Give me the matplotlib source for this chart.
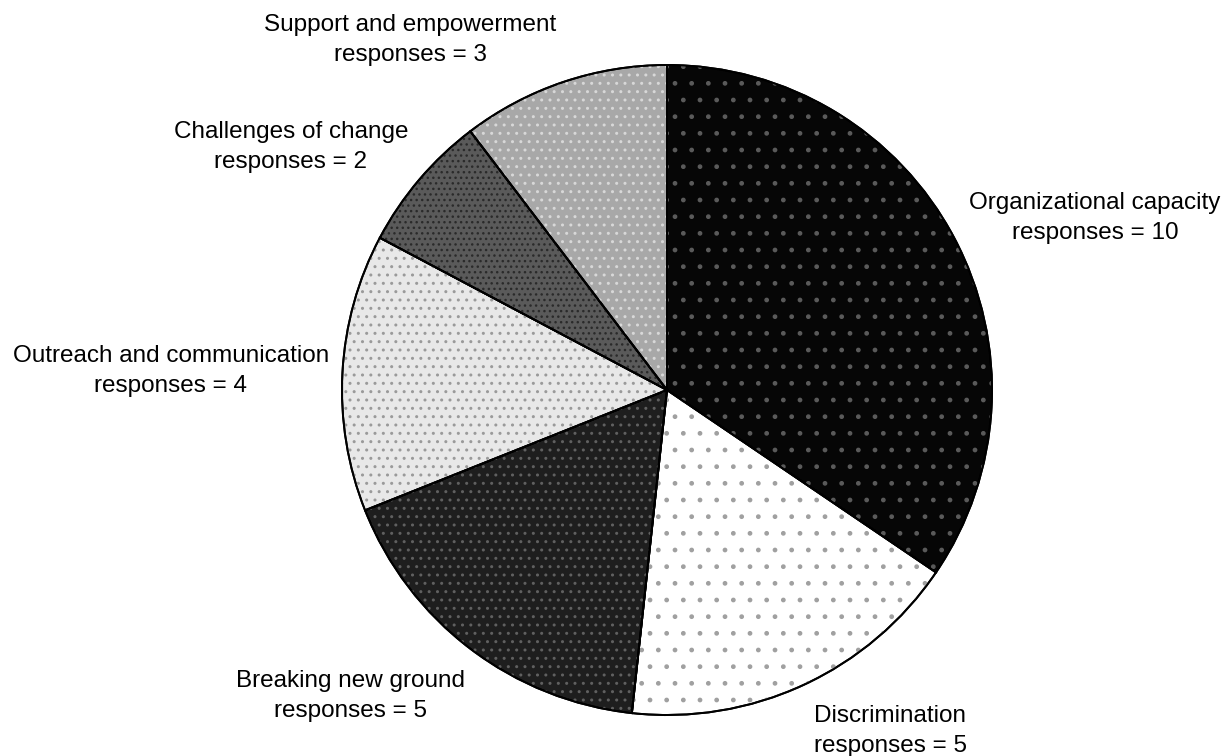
import matplotlib.pyplot as plt

# response counts per theme, clockwise from 12 o'clock
themes = ["Organizational capacity", "Discrimination", "Breaking new ground",
          "Outreach and communication", "Challenges of change", "Support and empowerment"]
counts = [10, 5, 5, 4, 2, 3]

face_colors = ["#060606", "#ffffff", "#1e1e1e", "#e8e8e8", "#5a5a5a", "#a8a8a8"]
dot_colors = ["#5a5a5a", "#a0a0a0", "#606060", "#9a9a9a", "#2a2a2a", "#d8d8d8"]
dot_hatches = [".", ".", "..", "..", "...", ".."]

# label anchor points (pixel coords, centre of the two-line block)
label_pos = [(1095, 218), (890, 731), (351, 696), (171, 371), (291, 147), (410, 40)]

W, H = 1230, 756
cx, cy, R = 667, 390, 325

fig = plt.figure(figsize=(W / 100, H / 100), dpi=100)
ax = fig.add_axes([0, 0, 1, 1])

wedges, _ = ax.pie(counts, startangle=90, counterclock=False, radius=1,
                   colors=face_colors,
                   wedgeprops=dict(edgecolor="black", linewidth=1.4))

# dotted screen texture laid over each slice
overlay, _ = ax.pie(counts, startangle=90, counterclock=False, radius=1,
                    wedgeprops=dict(facecolor="none", linewidth=0))
for w, hc, h in zip(overlay, dot_colors, dot_hatches):
    w.set_edgecolor(hc)
    w.set_hatch(h)

# keep outlines on top
outline, _ = ax.pie(counts, startangle=90, counterclock=False, radius=1,
                    wedgeprops=dict(facecolor="none", edgecolor="black", linewidth=1.4))

# limits chosen so one data unit = R pixels both ways
ax.set_aspect("auto")
ax.set_xlim(-cx / R, (W - cx) / R)
ax.set_ylim(-(H - cy) / R, cy / R)
ax.axis("off")

for name, n, (px, py) in zip(themes, counts, label_pos):
    x = (px - cx) / R
    y = (cy - py) / R
    ax.text(x, y, f"{name}\nresponses = {n}", ha="center", va="center",
            fontsize=17.5, family="Liberation Sans", linespacing=1.45)

fig.savefig("out.png", dpi=100, facecolor="white")
